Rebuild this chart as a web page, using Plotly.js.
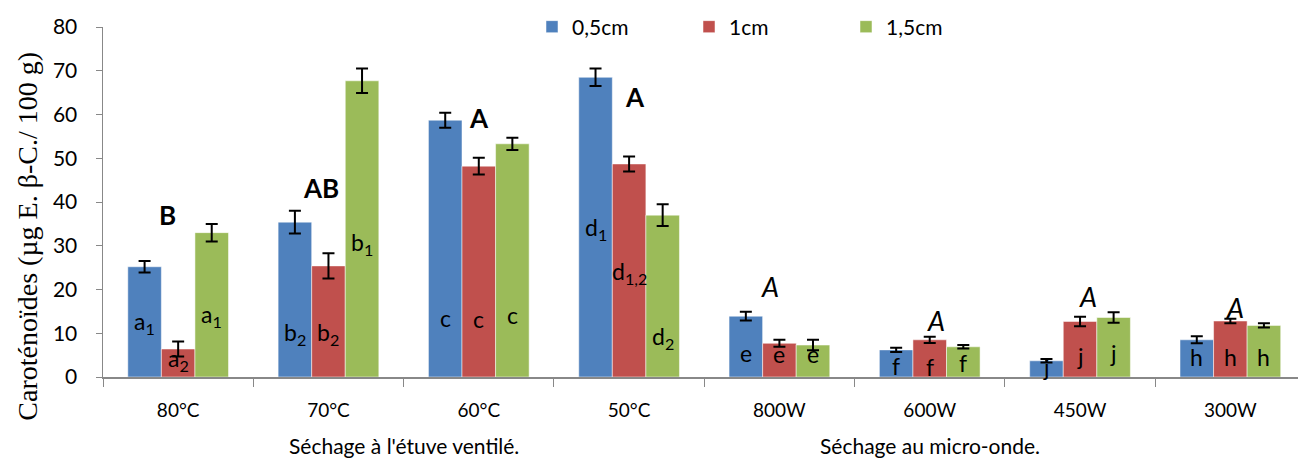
<!DOCTYPE html>
<html>
<head>
<meta charset="utf-8">
<script src="https://cdn.plot.ly/plotly-3.0.1.min.js"></script>
<style>html,body{margin:0;padding:0;background:#fff;}#chart{width:1298px;height:459px;}</style>
</head>
<body>
<div id="chart"></div>
<script>
// ---- data ----
const categories = ['80°C','70°C','60°C','50°C','800W','600W','450W','300W'];
const seriesNames = ['0,5cm','1cm','1,5cm'];
const v05 = [25.2, 35.4, 58.7, 68.5, 13.9, 6.2, 3.7, 8.5];
const e05 = [1.3, 2.6, 1.7, 2.0, 1.0, 0.5, 0.4, 0.8];
const v1  = [6.4, 25.4, 48.2, 48.7, 7.7, 8.5, 12.7, 12.8];
const e1  = [1.7, 2.9, 1.9, 1.7, 0.8, 0.7, 1.1, 0.5];
const v15 = [33.0, 67.7, 53.3, 37.0, 7.3, 6.9, 13.6, 11.8];
const e15 = [2.0, 2.8, 1.4, 2.5, 1.2, 0.4, 1.2, 0.5];
const letters05 = ['a<sub>1</sub>','b<sub>2</sub>','c','d<sub>1</sub>','e','f','j','h'];
const letters1  = ['a<sub>2</sub>','b<sub>2</sub>','c','d<sub>1,2</sub>','e','f','j','h'];
const letters15 = ['a<sub>1</sub>','b<sub>1</sub>','c','d<sub>2</sub>','e','f','j','h'];
const groupLetters = ['B','AB','A','A','A','A','A','A'];
const groupNames = ["Séchage à l'étuve ventilé.", 'Séchage au micro-onde.'];
const yTitle = 'Caroténoïdes (µg E. β-C./ 100 g)';

// ---- label placement (y in data units) ----
const ly05 = [12.5, 10, 13.5, 34, 5.5, 2.5, 2.3, 4.5];
const ly1  = [4, 10, 13.2, 24, 5.3, 2.3, 4.8, 4.5];
const ly15 = [14, 30.6, 14.2, 9, 5.3, 3.2, 5.6, 4.5];
const gx = [-0.07, -0.05, 0.0, 0.04, -0.06, 0.04, 0.05, 0.03];
const gy = [37.0, 43.2, 59.2, 64.0, 20.6, 13.0, 18.5, 15.8];

const colors = ['#4F81BD','#C0504D','#9BBB59'];
const vals = [v05, v1, v15];
const errs = [e05, e1, e15];
const FONT = 'Lato, "Open Sans", sans-serif';

const traces = vals.map((v, i) => ({
  type: 'bar', name: seriesNames[i], x: categories, y: v,
  marker: {color: colors[i], line: {color: 'rgba(255,255,255,0.5)', width: 1}},
  error_y: {type: 'data', array: errs[i], visible: true, color: '#000', thickness: 2, width: 6}
}));

const annotations = [];
const off = [-0.2233, 0, 0.2233];
const lbls = [letters05, letters1, letters15];
const lys = [ly05, ly1, ly15];
categories.forEach((c, k) => {
  for (let s = 0; s < 3; s++) {
    annotations.push({x: k + off[s], y: lys[s][k], xref: 'x', yref: 'y', text: lbls[s][k],
      showarrow: false, font: {family: FONT, size: 23, color: '#000'}});
  }
  const bold = k < 4;
  annotations.push({x: k + gx[k], y: gy[k], xref: 'x', yref: 'y',
    text: bold ? '<b>' + groupLetters[k] + '</b>' : '<i>' + groupLetters[k] + '</i>',
    showarrow: false, font: {family: FONT, size: bold ? 26 : 27, color: '#000'}});
});
annotations.push({x: 1.5, y: -0.197, xref: 'x', yref: 'paper', yanchor: 'middle', text: groupNames[0],
  showarrow: false, font: {family: FONT, size: 21, color: '#000'}});
annotations.push({x: 5.0, y: -0.197, xref: 'x', yref: 'paper', yanchor: 'middle', text: groupNames[1],
  showarrow: false, font: {family: FONT, size: 21, color: '#000'}});
annotations.push({x: -0.063, y: 0.403, xref: 'paper', yref: 'paper', xanchor: 'center', yanchor: 'middle',
  text: yTitle, textangle: -90, showarrow: false,
  font: {family: '"Liberation Serif", "Times New Roman", serif', size: 28, color: '#000'}});

const layout = {
  width: 1298, height: 459,
  margin: {l: 103, r: 0, t: 27, b: 82},
  paper_bgcolor: '#fff', plot_bgcolor: '#fff',
  barmode: 'group', bargap: 0.33, bargroupgap: 0,
  font: {family: FONT, color: '#000'},
  showlegend: true,
  legend: {orientation: 'h', x: 0.359, y: 1.0, xanchor: 'left', yanchor: 'middle',
    font: {family: FONT, size: 21, color: '#000'}, entrywidth: 112, entrywidthmode: 'pixels',
    bgcolor: 'rgba(0,0,0,0)', itemclick: false},
  xaxis: {type: 'category', range: [-0.5, 7.45], tickson: 'boundaries', ticks: 'outside', ticklen: 8,
    tickcolor: '#888', linecolor: '#888', linewidth: 1.5, showline: true, showgrid: false, zeroline: false,
    tickfont: {family: FONT, size: 19, color: '#000'}, ticklabelstandoff: 16},
  yaxis: {range: [0, 80], dtick: 10, ticks: 'outside', ticklen: 6, tickcolor: '#888',
    linecolor: '#888', linewidth: 1.5, showline: true, showgrid: false, zeroline: false,
    tickfont: {family: FONT, size: 21, color: '#000'}, ticklabelstandoff: 14},
  annotations: annotations
};
Plotly.newPlot('chart', traces, layout, {displayModeBar: false, staticPlot: true});
</script>
</body>
</html>
